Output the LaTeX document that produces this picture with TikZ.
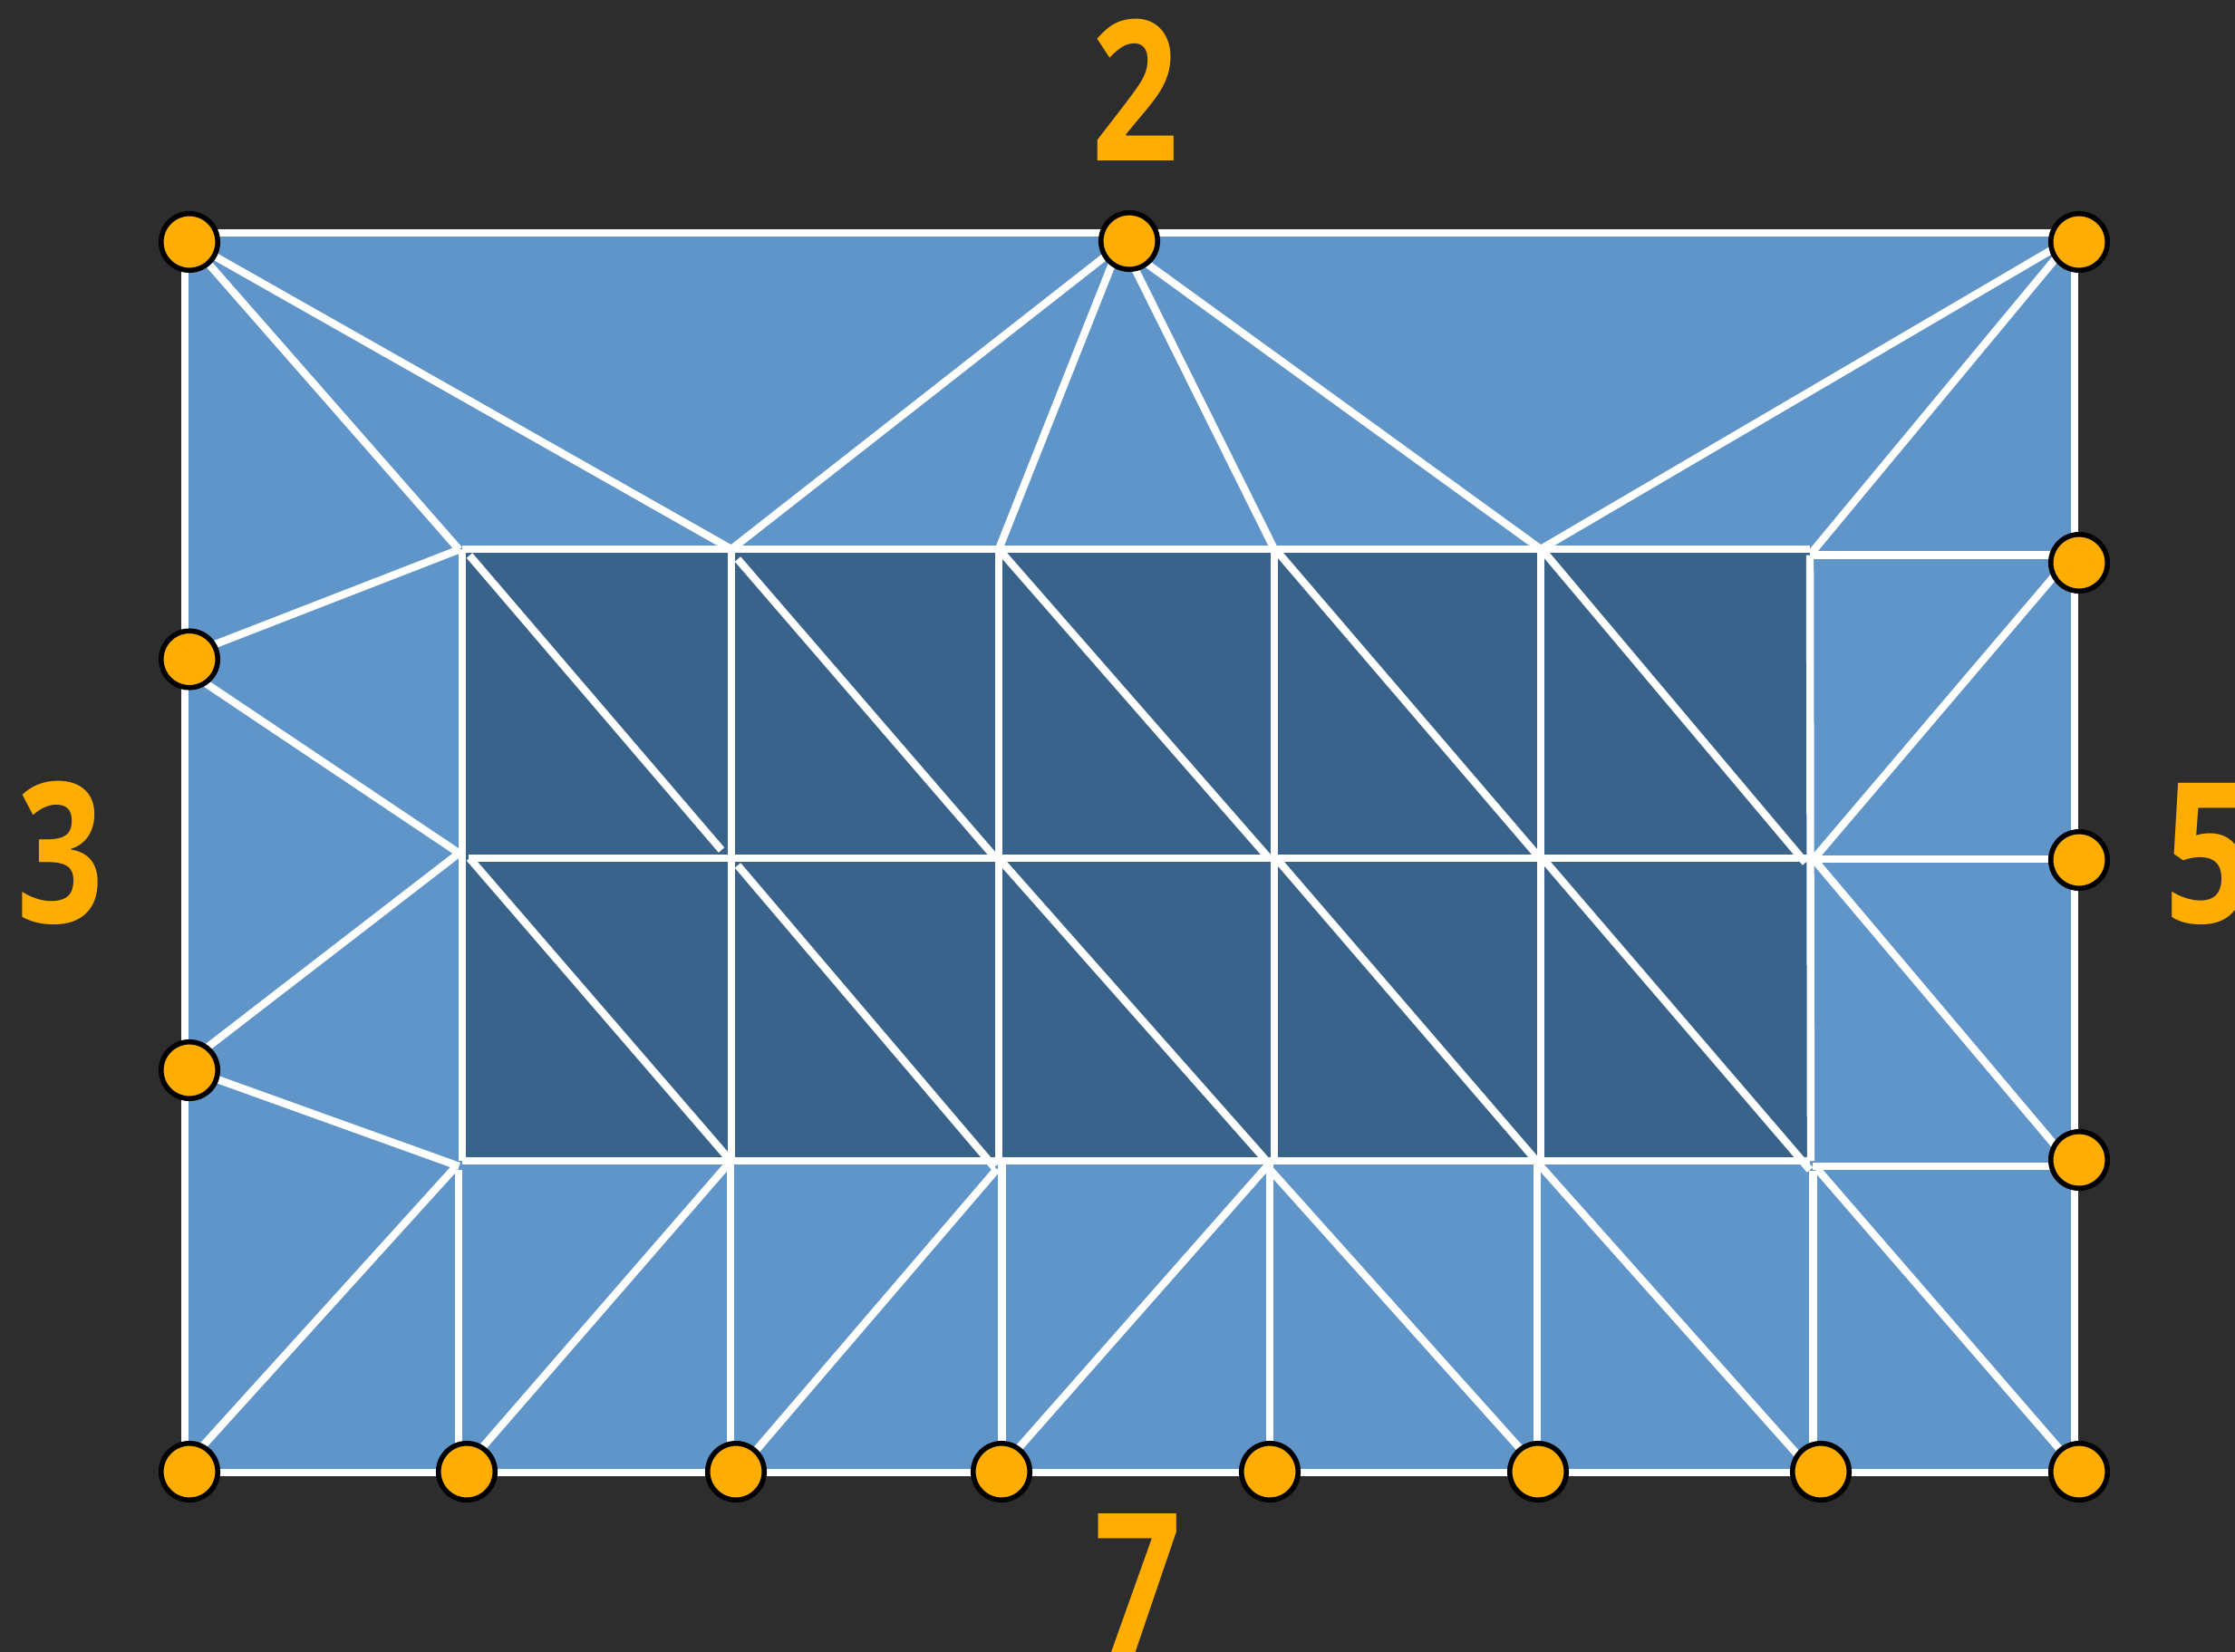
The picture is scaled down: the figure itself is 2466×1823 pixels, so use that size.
\documentclass[tikz,border=0pt]{standalone}
\usepackage{fontspec}
\setmainfont{Open Sans}
\definecolor{bgc}{HTML}{2D2D2D}
\definecolor{lightb}{HTML}{6095C9}
\definecolor{darkb}{HTML}{3A638C}
\definecolor{orng}{HTML}{FFAD00}
\pgfdeclarelayer{fg}
\pgfsetlayers{main,fg}
\newcommand{\dgt}[1]{\scalebox{0.78}[1]{#1}}
\tikzset{
  pin/.style={circle,draw=black,line width=5.6pt,fill=orng,minimum size=62.5pt,inner sep=0pt},
  edge/.style={draw=white,line width=8.4pt},
  border/.style={draw=white,line width=8.4pt,fill=lightb},
  digit/.style={text=orng,anchor=base,inner sep=0pt,font=\fontsize{216}{216}\bfseries\selectfont}
}
\begin{document}
\begin{tikzpicture}[x=1pt,y=-1pt]
\fill[bgc] (0,0) rectangle (2466,1823);
\useasboundingbox (0,0) rectangle (2466,1823);
\path[border] (204,257) rectangle (2289,1625);
\fill[darkb] (510,606) rectangle (1997,1281);
% labels
\node[digit] (lab2) at (1253,177) {\dgt{2}};
\node[digit] (lab3) at (67,1018) {\dgt{3}};
\node[digit] (lab5) at (2437,1018) {\dgt{5}};
\node[digit] (lab7) at (1256,1824) {\dgt{7}};
% pins
\begin{pgfonlayer}{fg}
\node[pin] (t1) at (209,267) {};
\node[pin] (t2) at (1246,266) {};
\node[pin] (t3) at (2294,267) {};
\node[pin] (r1) at (2294,621) {};
\node[pin] (r2) at (2294,949) {};
\node[pin] (r3) at (2294,1280) {};
\node[pin] (l1) at (209,727.5) {};
\node[pin] (l2) at (209,1181) {};
\node[pin] (b1) at (209,1624) {};
\node[pin] (b2) at (515,1624) {};
\node[pin] (b3) at (812,1624) {};
\node[pin] (b4) at (1105,1624) {};
\node[pin] (b5) at (1401,1624) {};
\node[pin] (b6) at (1697,1624) {};
\node[pin] (b7) at (2009,1624) {};
\node[pin] (b8) at (2294,1624) {};
\end{pgfonlayer}
% grid vertices
\coordinate (a0) at (510,606);  \coordinate (a1) at (807,606);  \coordinate (a2) at (1102,606);
\coordinate (a3) at (1406,606); \coordinate (a4) at (1700,606); \coordinate (a5) at (1997,606);
\coordinate (m0) at (510,947);  \coordinate (m1) at (807,947);  \coordinate (m2) at (1102,947);
\coordinate (m3) at (1406,947); \coordinate (m4) at (1700,947); \coordinate (m5) at (1997,947);
\coordinate (c0) at (510,1281); \coordinate (c1) at (807,1281); \coordinate (c2) at (1102,1281);
\coordinate (c3) at (1406,1281);\coordinate (c4) at (1700,1281);\coordinate (c5) at (1997,1281);
% spoke ends around the grid
\coordinate (sl1) at (506.5,606.5); \coordinate (sl2) at (506.5,941.5); \coordinate (sl3) at (506.5,1287);
\coordinate (fan0) at (501.5,1289);
% free ends of the grid diagonals
\coordinate (d1a) at (518,613);  \coordinate (d1b) at (796,938);
\coordinate (d2a) at (814,617);  \coordinate (d2b) at (1096,944);
\coordinate (d3a) at (518,947);  \coordinate (d3b) at (807,1282);
\coordinate (d4a) at (814,955);  \coordinate (d4b) at (1097,1288);
\coordinate (d5b) at (1400,947); \coordinate (d6a) at (1407,606); \coordinate (d6b) at (1699,947);
\coordinate (d7a) at (1701,606); \coordinate (d7b) at (1992,952);
\coordinate (d8b) at (1400,1284);\coordinate (d9a) at (1408,947); \coordinate (d9b) at (1697,1283);
\coordinate (d10a) at (1702,947);\coordinate (d10b) at (1997,1291);
\coordinate (h2s) at (517,947);
% right side
\coordinate (re1) at (1997,612.5); \coordinate (re1e) at (2264,612.5);
\coordinate (re2) at (1998,948);   \coordinate (re2e) at (2264,948);
\coordinate (re3) at (2000,1287);  \coordinate (re3e) at (2264,1287);
\coordinate (rc) at (2001,948);    \coordinate (rv) at (1998,1281);
\coordinate (ar1) at (2279,621);
\coordinate (sp3) at (1998,611);
\coordinate (d3r) at (2281,1280);
% apex points under the pins
\coordinate (at1) at (2294,258);   \coordinate (at2) at (2294,254);
\coordinate (ap1) at (1241,266);   \coordinate (ap2) at (1237,266);   \coordinate (ap4) at (1231,266);
\coordinate (al1) at (209,722);    \coordinate (al2) at (209,742);
\coordinate (al3) at (209,1171);   \coordinate (al4) at (209,1180);
\coordinate (ab1) at (198,1624);   \coordinate (ab2) at (509,1624);   \coordinate (ab3) at (814,1624);
\coordinate (ab4) at (1101,1624);  \coordinate (ab6) at (1700,1624);  \coordinate (ab7) at (2000,1624);
% lower verticals
\coordinate (v0) at (506,1291);  \coordinate (v0b) at (506,1624);
\coordinate (v1) at (806,1281);  \coordinate (v1b) at (806,1624);
\coordinate (v2) at (1105.5,1285); \coordinate (v2b) at (1105.5,1624);
\coordinate (v3) at (1401,1285); \coordinate (v3b) at (1401,1624);
\coordinate (v4) at (1696,1285); \coordinate (v4b) at (1696,1624);
\coordinate (v5) at (2000.5,1292); \coordinate (v5b) at (2000.5,1624);
% lower fan tops
\coordinate (f1) at (803,1285); \coordinate (f2) at (1100,1290);
\coordinate (f3) at (1398,1287); \coordinate (f4) at (1699,1286); \coordinate (f5) at (2005,1290);
% grid lines
\draw[edge] (a0) -- (a5);
\draw[edge] (h2s) -- (m5);
\draw[edge] (c0) -- (c5);
\draw[edge] (a0) -- (c0);
\draw[edge] (a1) -- (c1);
\draw[edge] (a2) -- (c2);
\draw[edge] (a3) -- (c3);
\draw[edge] (a4) -- (c4);
\draw[edge] (re1) -- (rv);
% diagonals
\draw[edge] (d1a) -- (d1b);
\draw[edge] (d2a) -- (d2b);
\draw[edge] (a2) -- (d5b);
\draw[edge] (d6a) -- (d6b);
\draw[edge] (d7a) -- (d7b);
\draw[edge] (d3a) -- (d3b);
\draw[edge] (d4a) -- (d4b);
\draw[edge] (m2) -- (d8b);
\draw[edge] (d9a) -- (d9b);
\draw[edge] (d10a) -- (d10b);
% spokes top
\draw[edge] (t1) -- (sl1);
\draw[edge] (t1) -- (a1);
\draw[edge] (ap1) -- (a1);
\draw[edge] (ap2) -- (a2);
\draw[edge] (ap2) -- (a3);
\draw[edge] (ap4) -- (a4);
\draw[edge] (at1) -- (a4);
\draw[edge] (at2) -- (sp3);
% spokes left
\draw[edge] (al1) -- (sl1);
\draw[edge] (al2) -- (sl2);
\draw[edge] (al3) -- (sl2);
\draw[edge] (al4) -- (sl3);
% spokes right
\draw[edge] (re1) -- (re1e);
\draw[edge] (ar1) -- (rc);
\draw[edge] (re2) -- (re2e);
\draw[edge] (rc) -- (d3r);
\draw[edge] (re3) -- (re3e);
% lower verticals
\draw[edge] (v0) -- (v0b);
\draw[edge] (v1) -- (v1b);
\draw[edge] (v2) -- (v2b);
\draw[edge] (v3) -- (v3b);
\draw[edge] (v4) -- (v4b);
\draw[edge] (v5) -- (v5b);
% lower fans
\draw[edge] (ab1) -- (fan0);
\draw[edge] (ab2) -- (f1);
\draw[edge] (ab3) -- (f2);
\draw[edge] (ab4) -- (f3);
\draw[edge] (f3) -- (ab6);
\draw[edge] (f4) -- (ab7);
\draw[edge] (f5) -- (b8);
\end{tikzpicture}
\end{document}
